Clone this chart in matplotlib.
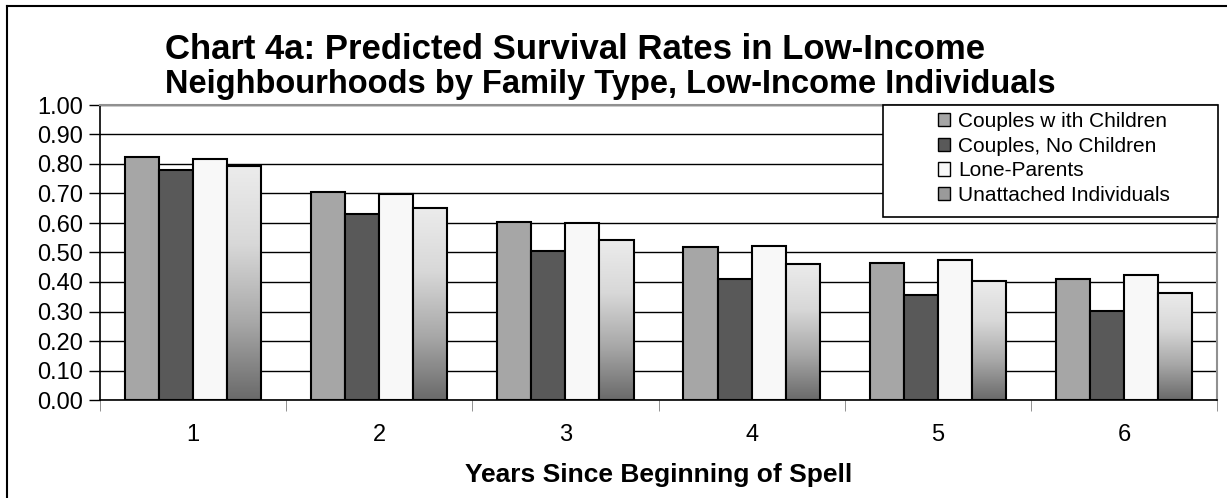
import numpy as np
import matplotlib.pyplot as plt
from matplotlib.colors import LinearSegmentedColormap
from matplotlib.lines import Line2D
from matplotlib.patches import Patch, Rectangle

plt.rcParams['font.family'] = ['Liberation Sans', 'DejaVu Sans']

years = ['1', '2', '3', '4', '5', '6']
couples_children = [0.825, 0.705, 0.605, 0.517, 0.465, 0.410]
couples_no_children = [0.778, 0.632, 0.505, 0.410, 0.356, 0.303]
lone_parents = [0.818, 0.698, 0.599, 0.523, 0.476, 0.424]
unattached = [0.792, 0.652, 0.544, 0.462, 0.403, 0.363]

series_names = ['Couples w ith Children', 'Couples, No Children',
                'Lone-Parents', 'Unattached Individuals']
series_values = [couples_children, couples_no_children, lone_parents, unattached]
fills = ['#a6a6a6', '#595959', '#f8f8f8', None]

fade = LinearSegmentedColormap.from_list(
    'fade', ['#6a6a6a', '#a8a8a8', '#d8d8d8', '#ececec'])

W, H = 1227, 498
fig = plt.figure(figsize=(W / 100, H / 100), dpi=100)
ax = fig.add_axes([100 / W, 98 / H, 1117 / W, 295 / H])

x = np.arange(len(years))
w = 0.183
offsets = (np.arange(4) - 1.5) * w

for k, (vals, fc) in enumerate(zip(series_values, fills)):
    pos = x + offsets[k]
    if fc is not None:
        ax.bar(pos, vals, w, color=fc, edgecolor='black', linewidth=1.5, zorder=3)
    else:
        # gradient bars: draw outline, then fill each with a vertical ramp
        bars = ax.bar(pos, vals, w, color='none', edgecolor='black',
                      linewidth=1.5, zorder=4)
        grad = np.linspace(0, 1, 256).reshape(-1, 1)
        for b in bars:
            x0, y0 = b.get_x(), b.get_y()
            ax.imshow(grad, cmap=fade, origin='lower', aspect='auto',
                      extent=[x0, x0 + b.get_width(), y0, y0 + b.get_height()],
                      zorder=3)

ax.set_xlim(-0.5, len(years) - 0.5)
ax.set_ylim(0, 1.0)
ax.set_yticks(np.arange(0, 1.01, 0.1))
ax.set_yticklabels([f'{v:.2f}' for v in np.arange(0, 1.01, 0.1)], fontsize=17)
ax.set_xticks(x)
ax.set_xticklabels(years, fontsize=17)
ax.set_xticks(np.arange(-0.5, len(years), 1.0), minor=True)
ax.tick_params(axis='x', which='major', length=0, pad=17.5)
ax.tick_params(axis='x', which='minor', length=8, color='#808080', direction='out')
ax.tick_params(axis='y', length=8, width=1, direction='out', pad=4)
ax.grid(axis='y', color='black', linewidth=1, zorder=1)
ax.set_axisbelow(True)

for side in ['left', 'bottom']:
    ax.spines[side].set_color('black')
    ax.spines[side].set_linewidth(1.2)
for side in ['top', 'right']:
    ax.spines[side].set_color('#909090')
    ax.spines[side].set_linewidth(1.5)

ax.set_xlabel('Years Since Beginning of Spell', fontsize=19, fontweight='bold',
              labelpad=12)

fig.text(575 / W, 1 - 59 / H, 'Chart 4a: Predicted Survival Rates in Low-Income',
         ha='center', va='baseline', fontsize=25, fontweight='bold')
fig.text(610 / W, 1 - 93 / H, 'Neighbourhoods by Family Type, Low-Income Individuals',
         ha='center', va='baseline', fontsize=23.5, fontweight='bold')

# legend box drawn separately so it can be wider than its entries
box = Rectangle((883 / W, 1 - 217 / H), 335 / W, 112 / H, transform=fig.transFigure,
                facecolor='white', edgecolor='black', linewidth=1.2, zorder=9)
fig.add_artist(box)

handles = [Patch(facecolor=c if c else '#9a9a9a', edgecolor='black', linewidth=1)
           for c in fills]
leg = fig.legend(handles, series_names, loc='center',
                 bbox_to_anchor=(1054 / W, 1 - 158.5 / H), fontsize=15, frameon=False,
                 handlelength=0.6, handleheight=0.6, handletextpad=0.4,
                 labelspacing=0.27, borderpad=0)
leg.set_zorder(10)

# outer chart border: only the left and top edges fall inside the image
fig.add_artist(Line2D([7 / W, 7 / W], [0, 1 - 6 / H], color='black',
                      linewidth=1.5, transform=fig.transFigure))
fig.add_artist(Line2D([7 / W, 1], [1 - 6 / H, 1 - 6 / H], color='black',
                      linewidth=1.5, transform=fig.transFigure))

fig.savefig('out.png', dpi=100)
